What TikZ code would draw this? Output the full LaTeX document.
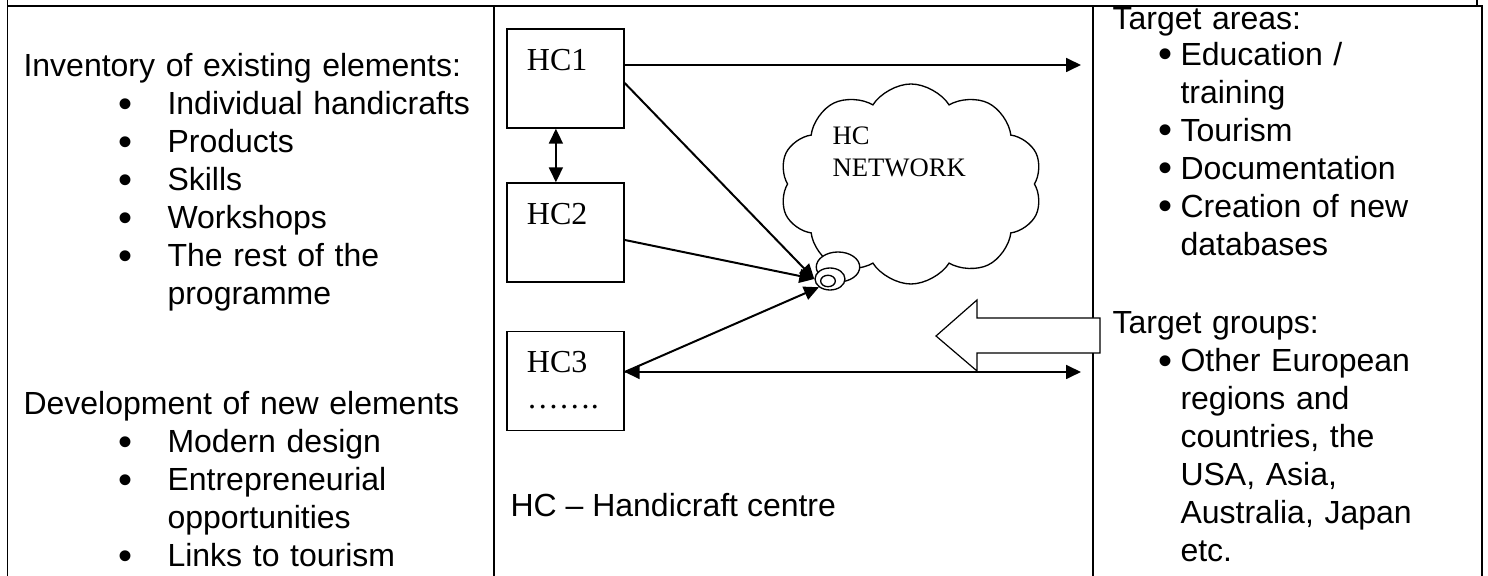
\documentclass[tikz,border=0pt]{standalone}
\usepackage{fontspec}
\setmainfont{Liberation Sans}
\newfontfamily\tnr{Liberation Serif}
\usetikzlibrary{arrows.meta,shapes.geometric,shapes.symbols}
\newcommand{\dotmark}{\raisebox{-1pt}{\fontsize{15pt}{15pt}\selectfont\textbullet}}
\newcommand{\lbul}{\hspace*{35.6pt}\makebox[18.4pt][l]{\dotmark}}
\newcommand{\lind}{\hspace*{54pt}}
\newcommand{\rbul}{\hspace*{17.3pt}\makebox[8.2pt][l]{\dotmark}}
\newcommand{\rind}{\hspace*{25.5pt}}
\begin{document}
\begin{tikzpicture}[x=0.375pt,y=-0.375pt,
  txt/.style={anchor=base west,inner sep=0pt,align=left,
    font=\fontsize{12pt}{14.25pt}\selectfont},
  hcbox/.style={draw,line width=0.5pt,inner xsep=7.5pt,inner ysep=0pt,
    text width=28.9pt,align=left,text height=15.4pt,text depth=21.75pt,
    font=\tnr\fontsize{12pt}{13.5pt}\selectfont},
  bubble/.style={ellipse,draw,line width=0.5pt,fill=white,inner sep=0pt},
  link/.style={line width=0.75pt,-{Triangle[length=5.6pt,width=5.2pt]}},
  twoway/.style={line width=0.75pt,
    {Triangle[length=5.6pt,width=5.2pt]}-{Triangle[length=5.6pt,width=5.2pt]}}]
\useasboundingbox (0,0) rectangle (1488,576);

% table lines
\draw[line width=0.7pt] (7.5,576) -- (7.5,0) (1477,0) -- (1477,6)
  (7.5,6) -- (1482,6) -- (1482,576);
\draw[line width=0.7pt] (494,6) -- (494,576) (1093,6) -- (1093,576);

% left column
\node[txt,text width=175pt] (inv) at (23,77) {Inventory of existing elements:\\
\lbul Individual handicrafts\\
\lbul Products\\
\lbul Skills\\
\lbul Workshops\\
\lbul The rest of the\\
\lind programme};
\node[txt,text width=175pt] (dev) at (23,415) {Development of new elements\\
\lbul Modern design\\
\lbul Entrepreneurial\\
\lind opportunities\\
\lbul Links to tourism};

% network
\node[cloud,draw,line width=0.5pt,fill=white,cloud puffs=10,cloud puff arc=115,
  cloud ignores aspect,minimum width=98.6pt,minimum height=75pt] (net) at (911,184) {};
\node[anchor=base west,inner sep=0pt,text width=55pt,align=left,
  font=\tnr\fontsize{10pt}{12pt}\selectfont] (nettxt) at (832,145) {HC\\NETWORK};
\node[bubble,minimum width=16.3pt,minimum height=11.25pt] (b1) at (838,267) {};
\node[bubble,minimum width=11.25pt,minimum height=8.25pt] (b2) at (830,279) {};
\node[bubble,minimum width=5.5pt,minimum height=4.3pt] (b3) at (828,281) {};

\node[hcbox] (hc1) at (565.5,78.5) {HC1};
\node[hcbox] (hc2) at (565.5,232.5) {HC2};
\node[hcbox] (hc3) at (565.5,381) {HC3\\…….};

\coordinate (areasin) at (1081,65);
\coordinate (groupsin) at (1081,372);

\draw[twoway] ([xshift=-3.6pt]hc1.south) -- ([xshift=-3.6pt]hc2.north);
\draw[link] (hc1.east |- areasin) -- (areasin);
\draw[link] ([yshift=-1.7pt]hc1.east) -- (b2.west);
\draw[link] ([yshift=-2.8pt]hc2.east) -- (b2.west);
\draw[link] (hc3.east |- groupsin) -- (b2.south west);
\draw[twoway] (hc3.east |- groupsin) -- (groupsin);

% feedback arrow
\draw[line width=0.45pt,fill=white] (1100,318) -- (977,318) -- (977,300) -- (936,336)
  -- (977,371) -- (977,353) -- (1100,353) -- cycle;

\node[txt] (key) at (510,517) {HC – Handicraft centre};

% right column
\node[txt,text width=135pt] (areas) at (1112,30) {Target areas:\\[-1pt]
\rbul Education /\\
\rind training\\
\rbul Tourism\\
\rbul Documentation\\
\rbul Creation of new\\
\rind databases};
\node[txt,text width=135pt] (groups) at (1112,334) {Target groups:\\
\rbul Other European\\
\rind regions and\\
\rind countries, the\\
\rind USA, Asia,\\
\rind Australia, Japan\\
\rind etc.};
\end{tikzpicture}
\end{document}
